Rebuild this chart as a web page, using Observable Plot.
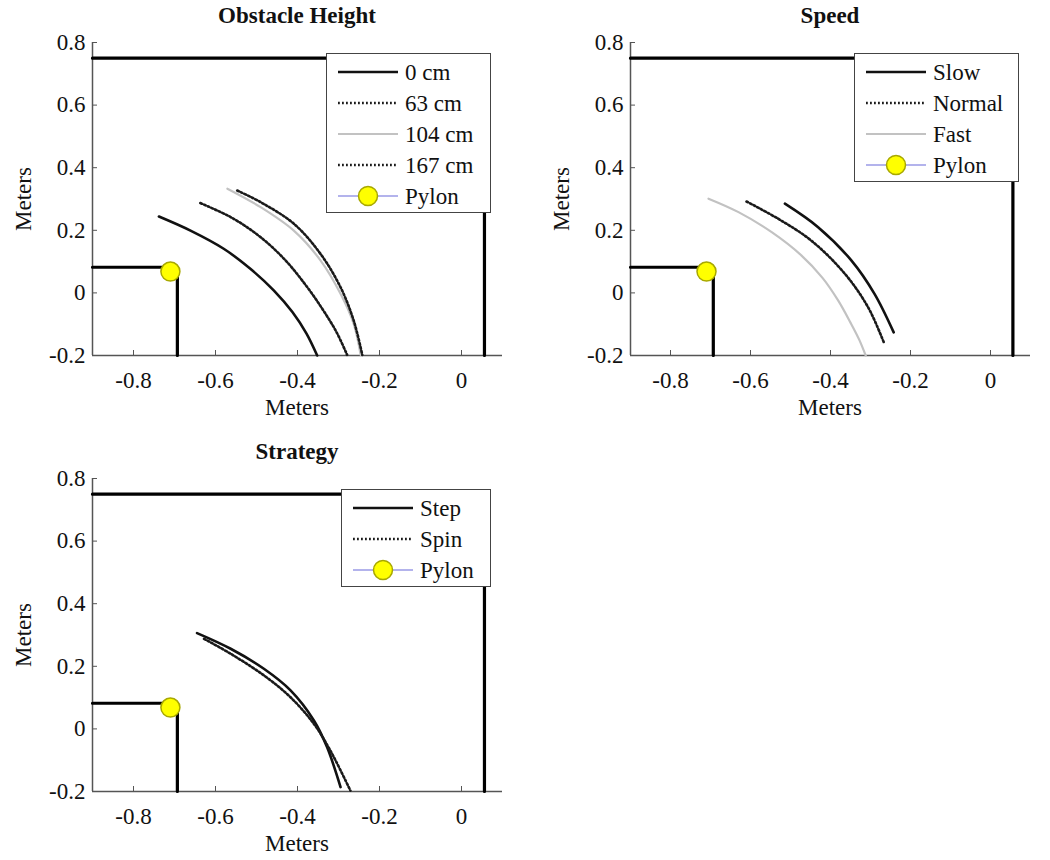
<!DOCTYPE html>
<html>
<head>
<meta charset="utf-8">
<script src="https://cdn.jsdelivr.net/npm/d3@7"></script>
<script src="https://cdn.jsdelivr.net/npm/@observablehq/plot@0.6"></script>
<style>
  body { margin: 0; background: #fff; }
  #fig { position: relative; width: 1050px; height: 860px; font-family: "Liberation Serif", "DejaVu Serif", serif; color: #111; overflow: hidden; }
  .panel { position: absolute; }
  .txt { position: absolute; white-space: nowrap; transform: translate(-50%, -50%); font-size: 23px; line-height: 1; }
  .title { font-weight: bold; }
  .rot { transform: translate(-50%, -50%) rotate(-90deg); }
  .legend { position: absolute; }
</style>
</head>
<body>
<div id="fig"></div>
<script>
// ---------- data ----------
const xTicks = [-0.8, -0.6, -0.4, -0.2, 0];
const yTicks = [-0.2, 0, 0.2, 0.4, 0.6, 0.8];
const titles = ["Obstacle Height", "Speed", "Strategy"];
const axisLabel = "Meters";

// environment (walls) and pylon, same in every panel
const outerWall = [[-0.9, 0.75], [0.056, 0.75], [0.056, -0.2]];
const innerCorner = [[-0.9, 0.082], [-0.693, 0.082], [-0.693, -0.2]];
const pylon = [[-0.71, 0.068]];

// Obstacle Height trajectories
const h0cm = [[-0.738, 0.244], [-0.661, 0.199], [-0.580, 0.141], [-0.515, 0.077], [-0.458, 0.008], [-0.412, -0.062], [-0.378, -0.130], [-0.352, -0.200]];
const h63cm = [[-0.637, 0.287], [-0.560, 0.240], [-0.490, 0.178], [-0.430, 0.105], [-0.380, 0.025], [-0.340, -0.050], [-0.305, -0.125], [-0.279, -0.198]];
const h104cm = [[-0.571, 0.333], [-0.490, 0.274], [-0.409, 0.199], [-0.344, 0.104], [-0.295, -0.003], [-0.263, -0.099], [-0.246, -0.198]];
const h167cm = [[-0.547, 0.327], [-0.490, 0.290], [-0.409, 0.221], [-0.344, 0.125], [-0.295, 0.018], [-0.263, -0.088], [-0.242, -0.198]];

// Speed trajectories
const slow = [[-0.514, 0.285], [-0.431, 0.210], [-0.348, 0.104], [-0.290, -0.003], [-0.242, -0.126]];
const normal = [[-0.610, 0.292], [-0.531, 0.237], [-0.448, 0.167], [-0.364, 0.061], [-0.306, -0.046], [-0.267, -0.157]];
const fast = [[-0.705, 0.301], [-0.630, 0.258], [-0.547, 0.194], [-0.473, 0.120], [-0.420, 0.048], [-0.381, -0.024], [-0.350, -0.095], [-0.328, -0.150], [-0.312, -0.200]];

// Strategy trajectories
const step = [[-0.645, 0.306], [-0.563, 0.256], [-0.482, 0.192], [-0.417, 0.123], [-0.360, 0.027], [-0.328, -0.058], [-0.295, -0.186]];
const spin = [[-0.628, 0.288], [-0.563, 0.240], [-0.482, 0.171], [-0.417, 0.101], [-0.360, 0.016], [-0.320, -0.069], [-0.271, -0.197]];

// ---------- styles ----------
const FONT = "'Liberation Serif', 'DejaVu Serif', serif";
const SOLID = {stroke: "#111", strokeWidth: 2.6};
const DOTTED = {stroke: "#1a1a1a", strokeWidth: 2.6, strokeDasharray: "1.8,2.2"};
const GRAY = {stroke: "#c2c2c2", strokeWidth: 2.2};
const PYLON = {fill: "#ffff00", stroke: "#a8a800", strokeWidth: 1.5, r: 9.5};
const PYLON_LINE = "#9a9ae6";

const panels = [
  {title: titles[0], left: 0, top: 0, width: 520, mL: 92, mR: 18,
   series: [{name: "0 cm", data: h0cm, style: SOLID}, {name: "63 cm", data: h63cm, style: DOTTED},
            {name: "104 cm", data: h104cm, style: GRAY}, {name: "167 cm", data: h167cm, style: DOTTED}],
   legendW: 165},
  {title: titles[1], left: 520, top: 0, width: 530, mL: 110, mR: 20,
   series: [{name: "Slow", data: slow, style: SOLID}, {name: "Normal", data: normal, style: DOTTED},
            {name: "Fast", data: fast, style: GRAY}],
   legendW: 165},
  {title: titles[2], left: 0, top: 436, width: 520, mL: 92, mR: 18,
   series: [{name: "Step", data: step, style: SOLID}, {name: "Spin", data: spin, style: DOTTED}],
   legendW: 150}
];

const fig = document.getElementById("fig");
const H = 420, mT = 42, mB = 65;
const fmt = d => d === 0 ? "0" : d.toFixed(1);

function addText(str, cx, cy, cls) {
  const el = document.createElement("div");
  el.className = "txt " + (cls || "");
  el.textContent = str;
  el.style.left = cx + "px";
  el.style.top = cy + "px";
  fig.appendChild(el);
}

for (const p of panels) {
  const chart = Plot.plot({
    width: p.width, height: H,
    marginLeft: p.mL, marginRight: p.mR, marginTop: mT, marginBottom: mB,
    x: {domain: [-0.9, 0.1]},
    y: {domain: [-0.2, 0.8]},
    style: {fontFamily: FONT, fontSize: "23px", color: "#111", background: "transparent", overflow: "visible"},
    marks: [
      Plot.axisX({ticks: xTicks, tickFormat: fmt, tickSize: -5, tickPadding: 21, label: null, stroke: "#555", fill: "#111"}),
      Plot.axisY({ticks: yTicks, tickFormat: fmt, tickSize: -5, tickPadding: 12, label: null, stroke: "#555", fill: "#111"}),
      Plot.ruleY([-0.2], {stroke: "#555", strokeWidth: 1.5}),
      Plot.ruleX([-0.9], {stroke: "#555", strokeWidth: 1.5}),
      Plot.line(outerWall, {stroke: "#000", strokeWidth: 3.2}),
      Plot.line(innerCorner, {stroke: "#000", strokeWidth: 3.2}),
      ...p.series.map(s => Plot.line(s.data, {...s.style, curve: "catmull-rom"})),
      Plot.dot(pylon, PYLON)
    ]
  });
  chart.classList.add("panel");
  chart.style.left = p.left + "px";
  chart.style.top = p.top + "px";
  fig.appendChild(chart);

  const plotRight = p.width - p.mR;
  const cx = p.left + (p.mL + plotRight) / 2;
  addText(p.title, cx, p.top + 15, "title");
  addText(axisLabel, cx, p.top + 407);
  addText(axisLabel, p.left + p.mL - 69, p.top + (mT + H - mB) / 2, "rot");

  // legend (MATLAB-style, north-east)
  const entries = [...p.series.map(s => ({name: s.name, style: s.style, pylon: false})), {name: "Pylon", pylon: true}];
  const lw = p.legendW, lh = 36 + 31 * (entries.length - 1);
  const lx = p.left + plotRight - 11 - lw, ly = p.top + 53;
  const svg = d3.create("svg").attr("class", "legend").attr("width", lw).attr("height", lh)
    .style("left", lx + "px").style("top", ly + "px");
  svg.append("rect").attr("x", 0.5).attr("y", 0.5).attr("width", lw - 1).attr("height", lh - 1)
    .attr("fill", "#fff").attr("stroke", "#444").attr("stroke-width", 1);
  entries.forEach((e, i) => {
    const y = 19 + 31 * i;
    if (e.pylon) {
      svg.append("line").attr("x1", 12).attr("x2", 72).attr("y1", y).attr("y2", y)
        .attr("stroke", PYLON_LINE).attr("stroke-width", 1.5);
      svg.append("circle").attr("cx", 42).attr("cy", y).attr("r", PYLON.r)
        .attr("fill", PYLON.fill).attr("stroke", PYLON.stroke).attr("stroke-width", PYLON.strokeWidth);
    } else {
      svg.append("line").attr("x1", 12).attr("x2", 72).attr("y1", y).attr("y2", y)
        .attr("stroke", e.style.stroke).attr("stroke-width", e.style.strokeWidth)
        .attr("stroke-dasharray", e.style.strokeDasharray || null);
    }
    svg.append("text").attr("x", 79).attr("y", y).attr("dy", "0.35em")
      .attr("font-family", FONT).attr("font-size", 23)
      .attr("fill", "#111").text(e.name);
  });
  fig.appendChild(svg.node());
}
</script>
</body>
</html>
